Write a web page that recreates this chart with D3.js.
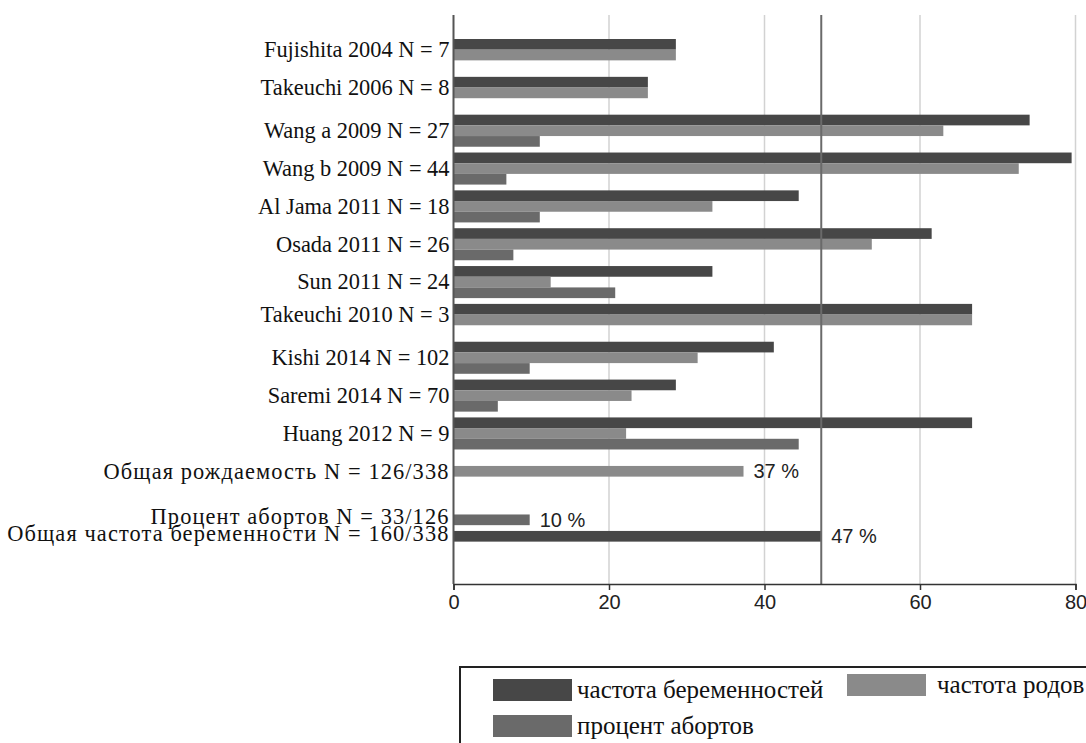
<!DOCTYPE html>
<html>
<head>
<meta charset="utf-8">
<script src="https://cdn.jsdelivr.net/npm/d3@7"></script>
<style>
  body { margin: 0; background: #fff; }
  svg { display: block; }
</style>
</head>
<body>
<svg id="chart"></svg>
<script>
// данные (%)
const rows = [
  "Fujishita 2004 N = 7",
  "Takeuchi 2006 N = 8",
  "Wang a 2009 N = 27",
  "Wang b 2009 N = 44",
  "Al Jama 2011 N = 18",
  "Osada 2011 N = 26",
  "Sun 2011 N = 24",
  "Takeuchi 2010 N = 3",
  "Kishi 2014 N = 102",
  "Saremi 2014 N = 70",
  "Huang 2012 N = 9",
  "Общая рождаемость N = 126/338",
  "Процент абортов N = 33/126",
  "Общая частота беременности N = 160/338"
];
const pregnancy = [28.6, 25.0, 74.1, 79.5, 44.4, 61.5, 33.3, 66.7, 41.2, 28.6, 66.7, 0, 0, 47.3];
const births    = [28.6, 25.0, 63.0, 72.7, 33.3, 53.8, 12.5, 66.7, 31.4, 22.9, 22.2, 37.3, 0, 0];
const abortion  = [0, 0, 11.1, 6.8, 11.1, 7.7, 20.8, 0, 9.8, 5.7, 44.4, 0, 9.8, 0];
// подписи у итоговых столбцов
const summaryText = ["", "", "", "", "", "", "", "", "", "", "", "37 %", "10 %", "47 %"];
const refValue = 47.3;
const xTicks = [0, 20, 40, 60, 80];

const series = [
  { key: "preg", name: "частота беременностей", values: pregnancy, color: "#474747" },
  { key: "birth", name: "частота родов", values: births, color: "#8a8a8a" },
  { key: "abort", name: "процент абортов", values: abortion, color: "#6a6a6a" }
];

const W = 1086, H = 743;
const svg = d3.select("#chart").attr("width", W).attr("height", H);

const x = d3.scaleLinear().domain([0, 80]).range([453.5, 1075.5]);
const y = d3.scaleBand().domain(d3.range(rows.length)).range([39, 563]).paddingInner(0.153).paddingOuter(0);
const sub = d3.scaleBand().domain(series.map(s => s.key)).range([0, y.bandwidth()]);

const yTop = 15, yBottom = 584;

// сетка
svg.append("g")
  .selectAll("line")
  .data(xTicks.filter(d => d > 0))
  .join("line")
    .attr("x1", d => x(d)).attr("x2", d => x(d))
    .attr("y1", yTop).attr("y2", yBottom)
    .attr("stroke", "#d2d2d2")
    .attr("stroke-width", 1.5);

// столбцы
const flat = [];
series.forEach(s => s.values.forEach((v, i) => { if (v > 0) flat.push({ s, i, v }); }));

svg.append("g")
  .selectAll("rect")
  .data(flat)
  .join("rect")
    .attr("x", x(0))
    .attr("y", d => y(d.i) + sub(d.s.key))
    .attr("width", d => x(d.v) - x(0))
    .attr("height", sub.bandwidth())
    .attr("fill", d => d.s.color);

// опорная линия 47 %
svg.append("line")
  .attr("x1", x(refValue)).attr("x2", x(refValue))
  .attr("y1", yTop).attr("y2", yBottom)
  .attr("stroke", "#6a6a6a")
  .attr("stroke-width", 2);

// ось x
const xAxis = svg.append("g")
  .attr("transform", `translate(0,${yBottom})`)
  .call(d3.axisBottom(x).tickValues(xTicks).tickSize(6).tickPadding(5));
xAxis.select(".domain").attr("stroke", "#333").attr("stroke-width", 1.5);
xAxis.selectAll(".tick line").attr("stroke", "#333").attr("stroke-width", 1.5);
xAxis.selectAll("text")
  .attr("font-family", "Liberation Sans, Arial, sans-serif")
  .attr("font-size", 20)
  .attr("fill", "#222");

// левая ось
svg.append("line")
  .attr("x1", x(0)).attr("x2", x(0))
  .attr("y1", yTop).attr("y2", yBottom)
  .attr("stroke", "#555")
  .attr("stroke-width", 2);

// подписи строк: по центру видимых столбцов
function rowCenter(i) {
  const c = series.filter(s => s.values[i] > 0).map(s => y(i) + sub(s.key) + sub.bandwidth() / 2);
  return d3.mean(c);
}
const isCyr = t => /[А-Яа-я]/.test(t);

svg.append("g")
  .selectAll("text")
  .data(rows)
  .join("text")
    .attr("x", x(0) - 4)
    // две нижние подписи стоят тесно, чуть приподняты
    .attr("y", (d, i) => rowCenter(i) - (i >= rows.length - 2 ? 3 : 0))
    .attr("dy", "0.33em")
    .attr("text-anchor", "end")
    .attr("font-family", "Liberation Serif, Times New Roman, serif")
    .attr("font-size", 22.4)
    .attr("letter-spacing", d => isCyr(d) ? 1.1 : 0)
    .attr("fill", "#111")
    .text(d => d);

// подписи итоговых значений
svg.append("g")
  .selectAll("text")
  .data(summaryText.map((t, i) => ({ t, i })).filter(d => d.t))
  .join("text")
    .attr("x", d => x(d3.max(series, s => s.values[d.i])) + 10)
    .attr("y", d => rowCenter(d.i))
    .attr("dy", "0.36em")
    .attr("font-family", "Liberation Sans, Arial, sans-serif")
    .attr("font-size", 20)
    .attr("fill", "#222")
    .text(d => d.t);

// легенда
const legend = svg.append("g");
legend.append("rect")
  .attr("x", 460).attr("y", 667)
  .attr("width", 700).attr("height", 120)
  .attr("fill", "none")
  .attr("stroke", "#222")
  .attr("stroke-width", 2);

const legendPos = { preg: [493, 679], birth: [847, 674], abort: [493, 715] };
const li = legend.selectAll("g.item")
  .data(series)
  .join("g")
    .attr("class", "item")
    .attr("transform", d => `translate(${legendPos[d.key][0]},${legendPos[d.key][1]})`);
li.append("rect")
  .attr("width", 79).attr("height", 22)
  .attr("fill", d => d.color);
li.append("text")
  .attr("x", d => d.key === "birth" ? 90 : 84)
  .attr("y", 11)
  .attr("dy", "0.3em")
  .attr("font-family", "Liberation Serif, Times New Roman, serif")
  .attr("font-size", 25)
  .attr("fill", "#111")
  .text(d => d.name);
</script>
</body>
</html>
